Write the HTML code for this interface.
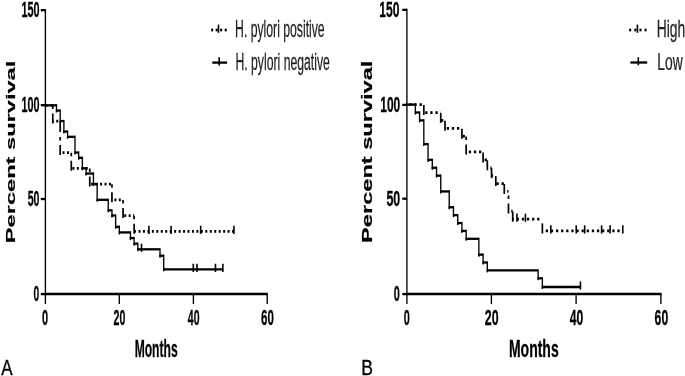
<!DOCTYPE html>
<html><head><meta charset="utf-8"><style>
html,body{margin:0;padding:0;background:#fff;width:685px;height:376px;overflow:hidden;}
svg{display:block;will-change:transform;filter:blur(0.45px);}
text{font-family:"Liberation Sans",sans-serif;}
</style></head><body>
<svg width="685" height="376" viewBox="0 0 685 376">
<rect width="685" height="376" fill="#fff"/>
<line x1="45.40" y1="9.05" x2="45.40" y2="295.25" stroke="#000" stroke-width="1.35" />
<line x1="45.40" y1="294.10" x2="267.88" y2="294.10" stroke="#000" stroke-width="2.5" />
<line x1="40.80" y1="294.10" x2="45.40" y2="294.10" stroke="#000" stroke-width="2.3" />
<line x1="40.80" y1="199.00" x2="45.40" y2="199.00" stroke="#000" stroke-width="2.3" />
<line x1="40.80" y1="105.20" x2="45.40" y2="105.20" stroke="#000" stroke-width="2.3" />
<line x1="40.80" y1="10.20" x2="45.40" y2="10.20" stroke="#000" stroke-width="2.3" />
<line x1="45.40" y1="294.10" x2="45.40" y2="304.10" stroke="#000" stroke-width="1.35" />
<line x1="119.30" y1="294.10" x2="119.30" y2="304.10" stroke="#000" stroke-width="1.35" />
<line x1="193.40" y1="294.10" x2="193.40" y2="304.10" stroke="#000" stroke-width="1.35" />
<line x1="267.20" y1="294.10" x2="267.20" y2="304.10" stroke="#000" stroke-width="1.35" />
<line x1="406.90" y1="8.70" x2="406.90" y2="295.25" stroke="#000" stroke-width="1.35" />
<line x1="406.90" y1="294.10" x2="661.57" y2="294.10" stroke="#000" stroke-width="2.5" />
<line x1="402.30" y1="294.10" x2="406.90" y2="294.10" stroke="#000" stroke-width="2.3" />
<line x1="402.30" y1="198.70" x2="406.90" y2="198.70" stroke="#000" stroke-width="2.3" />
<line x1="402.30" y1="104.90" x2="406.90" y2="104.90" stroke="#000" stroke-width="2.3" />
<line x1="402.30" y1="9.85" x2="406.90" y2="9.85" stroke="#000" stroke-width="2.3" />
<line x1="406.90" y1="294.10" x2="406.90" y2="304.10" stroke="#000" stroke-width="1.35" />
<line x1="491.40" y1="294.10" x2="491.40" y2="304.10" stroke="#000" stroke-width="1.35" />
<line x1="576.10" y1="294.10" x2="576.10" y2="304.10" stroke="#000" stroke-width="1.35" />
<line x1="660.90" y1="294.10" x2="660.90" y2="304.10" stroke="#000" stroke-width="1.35" />
<line x1="45.40" y1="105.30" x2="52.79" y2="105.30" stroke="#000" stroke-width="2.75" stroke-dasharray="1.974 2.481" stroke-dashoffset="3.476"/>
<line x1="52.79" y1="123.54" x2="52.79" y2="105.30" stroke="#000" stroke-width="1.7" stroke-dasharray="10 4.5 3.5 5"/>
<line x1="52.79" y1="121.04" x2="60.19" y2="121.04" stroke="#000" stroke-width="2.75" stroke-dasharray="1.974 2.481" stroke-dashoffset="1.021"/>
<line x1="60.19" y1="155.05" x2="60.19" y2="121.04" stroke="#000" stroke-width="1.7" stroke-dasharray="10 4.5 3.5 5"/>
<line x1="60.19" y1="152.55" x2="71.28" y2="152.55" stroke="#000" stroke-width="2.75" stroke-dasharray="1.974 2.481" stroke-dashoffset="2.090"/>
<line x1="71.28" y1="170.79" x2="71.28" y2="152.55" stroke="#000" stroke-width="1.7" stroke-dasharray="10 4.5 3.5 5"/>
<line x1="71.28" y1="168.29" x2="89.76" y2="168.29" stroke="#000" stroke-width="2.75" stroke-dasharray="1.974 2.481" stroke-dashoffset="3.331"/>
<line x1="89.76" y1="186.56" x2="89.76" y2="168.29" stroke="#000" stroke-width="1.7" stroke-dasharray="10 4.5 3.5 5"/>
<line x1="89.76" y1="184.06" x2="111.95" y2="184.06" stroke="#000" stroke-width="2.75" stroke-dasharray="1.974 2.481" stroke-dashoffset="3.066"/>
<line x1="111.95" y1="202.30" x2="111.95" y2="184.06" stroke="#000" stroke-width="1.7" stroke-dasharray="10 4.5 3.5 5"/>
<line x1="111.95" y1="199.80" x2="123.04" y2="199.80" stroke="#000" stroke-width="2.75" stroke-dasharray="1.974 2.481" stroke-dashoffset="2.033"/>
<line x1="123.04" y1="218.04" x2="123.04" y2="199.80" stroke="#000" stroke-width="1.7" stroke-dasharray="10 4.5 3.5 5"/>
<line x1="123.04" y1="215.54" x2="134.13" y2="215.54" stroke="#000" stroke-width="2.75" stroke-dasharray="1.974 2.481" stroke-dashoffset="3.274"/>
<line x1="134.13" y1="233.81" x2="134.13" y2="215.54" stroke="#000" stroke-width="1.7" stroke-dasharray="10 4.5 3.5 5"/>
<line x1="134.13" y1="231.31" x2="233.95" y2="231.31" stroke="#000" stroke-width="2.75" stroke-dasharray="1.974 2.481" stroke-dashoffset="0.070"/>
<line x1="148.92" y1="225.71" x2="148.92" y2="233.91" stroke="#000" stroke-width="1.6" />
<line x1="171.10" y1="225.71" x2="171.10" y2="233.91" stroke="#000" stroke-width="1.6" />
<line x1="200.67" y1="225.71" x2="200.67" y2="233.91" stroke="#000" stroke-width="1.6" />
<line x1="233.95" y1="225.71" x2="233.95" y2="233.91" stroke="#000" stroke-width="1.6" />
<line x1="44.73" y1="105.30" x2="56.49" y2="105.30" stroke="#000" stroke-width="2.3" />
<line x1="56.49" y1="104.15" x2="56.49" y2="112.55" stroke="#000" stroke-width="1.35" />
<line x1="55.82" y1="110.55" x2="60.19" y2="110.55" stroke="#000" stroke-width="2.3" />
<line x1="60.19" y1="109.40" x2="60.19" y2="123.04" stroke="#000" stroke-width="1.35" />
<line x1="59.51" y1="121.04" x2="63.88" y2="121.04" stroke="#000" stroke-width="2.3" />
<line x1="63.88" y1="119.89" x2="63.88" y2="133.55" stroke="#000" stroke-width="1.35" />
<line x1="63.21" y1="131.55" x2="67.58" y2="131.55" stroke="#000" stroke-width="2.3" />
<line x1="67.58" y1="130.40" x2="67.58" y2="138.81" stroke="#000" stroke-width="1.35" />
<line x1="66.91" y1="136.81" x2="74.98" y2="136.81" stroke="#000" stroke-width="2.3" />
<line x1="74.98" y1="135.66" x2="74.98" y2="154.55" stroke="#000" stroke-width="1.35" />
<line x1="74.30" y1="152.55" x2="78.67" y2="152.55" stroke="#000" stroke-width="2.3" />
<line x1="78.67" y1="151.40" x2="78.67" y2="159.80" stroke="#000" stroke-width="1.35" />
<line x1="78.00" y1="157.80" x2="82.37" y2="157.80" stroke="#000" stroke-width="2.3" />
<line x1="82.37" y1="156.65" x2="82.37" y2="170.29" stroke="#000" stroke-width="1.35" />
<line x1="81.70" y1="168.29" x2="86.07" y2="168.29" stroke="#000" stroke-width="2.3" />
<line x1="86.07" y1="167.14" x2="86.07" y2="175.55" stroke="#000" stroke-width="1.35" />
<line x1="85.39" y1="173.55" x2="93.46" y2="173.55" stroke="#000" stroke-width="2.3" />
<line x1="93.46" y1="172.40" x2="93.46" y2="186.06" stroke="#000" stroke-width="1.35" />
<line x1="92.79" y1="184.06" x2="97.16" y2="184.06" stroke="#000" stroke-width="2.3" />
<line x1="97.16" y1="182.91" x2="97.16" y2="201.80" stroke="#000" stroke-width="1.35" />
<line x1="96.48" y1="199.80" x2="108.25" y2="199.80" stroke="#000" stroke-width="2.3" />
<line x1="108.25" y1="198.65" x2="108.25" y2="212.31" stroke="#000" stroke-width="1.35" />
<line x1="107.57" y1="210.31" x2="111.95" y2="210.31" stroke="#000" stroke-width="2.3" />
<line x1="111.95" y1="209.16" x2="111.95" y2="217.54" stroke="#000" stroke-width="1.35" />
<line x1="111.27" y1="215.54" x2="115.64" y2="215.54" stroke="#000" stroke-width="2.3" />
<line x1="115.64" y1="214.39" x2="115.64" y2="228.81" stroke="#000" stroke-width="1.35" />
<line x1="114.97" y1="226.81" x2="119.34" y2="226.81" stroke="#000" stroke-width="2.3" />
<line x1="119.34" y1="225.66" x2="119.34" y2="234.42" stroke="#000" stroke-width="1.35" />
<line x1="118.67" y1="232.42" x2="130.43" y2="232.42" stroke="#000" stroke-width="2.3" />
<line x1="130.43" y1="231.27" x2="130.43" y2="240.05" stroke="#000" stroke-width="1.35" />
<line x1="129.76" y1="238.05" x2="134.13" y2="238.05" stroke="#000" stroke-width="2.3" />
<line x1="134.13" y1="236.90" x2="134.13" y2="245.67" stroke="#000" stroke-width="1.35" />
<line x1="133.45" y1="243.67" x2="137.82" y2="243.67" stroke="#000" stroke-width="2.3" />
<line x1="137.82" y1="242.52" x2="137.82" y2="251.30" stroke="#000" stroke-width="1.35" />
<line x1="137.15" y1="249.30" x2="160.01" y2="249.30" stroke="#000" stroke-width="2.3" />
<line x1="160.01" y1="248.15" x2="160.01" y2="257.73" stroke="#000" stroke-width="1.35" />
<line x1="159.33" y1="255.73" x2="163.70" y2="255.73" stroke="#000" stroke-width="2.3" />
<line x1="163.70" y1="254.58" x2="163.70" y2="271.35" stroke="#000" stroke-width="1.35" />
<line x1="163.03" y1="269.35" x2="222.86" y2="269.35" stroke="#000" stroke-width="2.3" />
<line x1="193.28" y1="263.75" x2="193.28" y2="271.95" stroke="#000" stroke-width="1.6" />
<line x1="196.98" y1="263.75" x2="196.98" y2="271.95" stroke="#000" stroke-width="1.6" />
<line x1="215.46" y1="263.75" x2="215.46" y2="271.95" stroke="#000" stroke-width="1.6" />
<line x1="222.86" y1="263.75" x2="222.86" y2="271.95" stroke="#000" stroke-width="1.6" />
<line x1="406.90" y1="104.60" x2="423.83" y2="104.60" stroke="#000" stroke-width="2.75" stroke-dasharray="2.269 2.851" stroke-dashoffset="2.718"/>
<line x1="423.83" y1="115.00" x2="423.83" y2="104.60" stroke="#000" stroke-width="1.7" stroke-dasharray="10 4.5 3.5 5"/>
<line x1="423.83" y1="112.50" x2="440.76" y2="112.50" stroke="#000" stroke-width="2.75" stroke-dasharray="2.269 2.851" stroke-dashoffset="3.767"/>
<line x1="440.76" y1="122.89" x2="440.76" y2="112.50" stroke="#000" stroke-width="1.7" stroke-dasharray="10 4.5 3.5 5"/>
<line x1="440.76" y1="120.39" x2="445.00" y2="120.39" stroke="#000" stroke-width="2.75" stroke-dasharray="2.269 2.851" stroke-dashoffset="4.806"/>
<line x1="445.00" y1="130.79" x2="445.00" y2="120.39" stroke="#000" stroke-width="1.7" stroke-dasharray="10 4.5 3.5 5"/>
<line x1="445.00" y1="128.29" x2="461.93" y2="128.29" stroke="#000" stroke-width="2.75" stroke-dasharray="2.269 2.851" stroke-dashoffset="3.397"/>
<line x1="461.93" y1="138.69" x2="461.93" y2="128.29" stroke="#000" stroke-width="1.7" stroke-dasharray="10 4.5 3.5 5"/>
<line x1="461.93" y1="136.19" x2="466.16" y2="136.19" stroke="#000" stroke-width="2.75" stroke-dasharray="2.269 2.851" stroke-dashoffset="4.446"/>
<line x1="466.16" y1="154.48" x2="466.16" y2="136.19" stroke="#000" stroke-width="1.7" stroke-dasharray="10 4.5 3.5 5"/>
<line x1="466.16" y1="151.98" x2="483.09" y2="151.98" stroke="#000" stroke-width="2.75" stroke-dasharray="2.269 2.851" stroke-dashoffset="2.503"/>
<line x1="483.09" y1="162.38" x2="483.09" y2="151.98" stroke="#000" stroke-width="1.7" stroke-dasharray="10 4.5 3.5 5"/>
<line x1="483.09" y1="159.88" x2="487.33" y2="159.88" stroke="#000" stroke-width="2.75" stroke-dasharray="2.269 2.851" stroke-dashoffset="3.553"/>
<line x1="487.33" y1="170.26" x2="487.33" y2="159.88" stroke="#000" stroke-width="1.7" stroke-dasharray="10 4.5 3.5 5"/>
<line x1="487.33" y1="167.76" x2="491.56" y2="167.76" stroke="#000" stroke-width="2.75" stroke-dasharray="2.269 2.851" stroke-dashoffset="2.133"/>
<line x1="491.56" y1="178.16" x2="491.56" y2="167.76" stroke="#000" stroke-width="1.7" stroke-dasharray="10 4.5 3.5 5"/>
<line x1="491.56" y1="175.66" x2="495.79" y2="175.66" stroke="#000" stroke-width="2.75" stroke-dasharray="2.269 2.851" stroke-dashoffset="0.723"/>
<line x1="495.79" y1="186.06" x2="495.79" y2="175.66" stroke="#000" stroke-width="1.7" stroke-dasharray="10 4.5 3.5 5"/>
<line x1="495.79" y1="183.56" x2="504.26" y2="183.56" stroke="#000" stroke-width="2.75" stroke-dasharray="2.269 2.851" stroke-dashoffset="4.434"/>
<line x1="504.26" y1="193.95" x2="504.26" y2="183.56" stroke="#000" stroke-width="1.7" stroke-dasharray="10 4.5 3.5 5"/>
<line x1="504.26" y1="191.45" x2="508.49" y2="191.45" stroke="#000" stroke-width="2.75" stroke-dasharray="2.269 2.851" stroke-dashoffset="2.126"/>
<line x1="508.49" y1="213.50" x2="508.49" y2="191.45" stroke="#000" stroke-width="1.7" stroke-dasharray="10 4.5 3.5 5"/>
<line x1="508.49" y1="211.00" x2="512.72" y2="211.00" stroke="#000" stroke-width="2.75" stroke-dasharray="2.269 2.851" stroke-dashoffset="2.375"/>
<line x1="512.72" y1="221.70" x2="512.72" y2="211.00" stroke="#000" stroke-width="1.7" stroke-dasharray="10 4.5 3.5 5"/>
<line x1="512.72" y1="219.20" x2="542.36" y2="219.20" stroke="#000" stroke-width="2.75" stroke-dasharray="2.269 2.851" stroke-dashoffset="1.139"/>
<line x1="542.36" y1="233.44" x2="542.36" y2="219.20" stroke="#000" stroke-width="1.7" stroke-dasharray="10 4.5 3.5 5"/>
<line x1="542.36" y1="230.94" x2="622.78" y2="230.94" stroke="#000" stroke-width="2.75" stroke-dasharray="2.269 2.851" stroke-dashoffset="1.761"/>
<line x1="550.82" y1="225.34" x2="550.82" y2="233.54" stroke="#000" stroke-width="1.6" />
<line x1="576.22" y1="225.34" x2="576.22" y2="233.54" stroke="#000" stroke-width="1.6" />
<line x1="584.69" y1="225.34" x2="584.69" y2="233.54" stroke="#000" stroke-width="1.6" />
<line x1="601.62" y1="225.34" x2="601.62" y2="233.54" stroke="#000" stroke-width="1.6" />
<line x1="610.08" y1="225.34" x2="610.08" y2="233.54" stroke="#000" stroke-width="1.6" />
<line x1="622.78" y1="225.34" x2="622.78" y2="233.54" stroke="#000" stroke-width="1.6" />
<line x1="406.22" y1="104.60" x2="415.37" y2="104.60" stroke="#000" stroke-width="2.3" />
<line x1="415.37" y1="103.45" x2="415.37" y2="114.50" stroke="#000" stroke-width="1.35" />
<line x1="414.69" y1="112.50" x2="419.60" y2="112.50" stroke="#000" stroke-width="2.3" />
<line x1="419.60" y1="111.35" x2="419.60" y2="122.39" stroke="#000" stroke-width="1.35" />
<line x1="418.92" y1="120.39" x2="423.83" y2="120.39" stroke="#000" stroke-width="2.3" />
<line x1="423.83" y1="119.24" x2="423.83" y2="146.07" stroke="#000" stroke-width="1.35" />
<line x1="423.16" y1="144.07" x2="428.06" y2="144.07" stroke="#000" stroke-width="2.3" />
<line x1="428.06" y1="142.92" x2="428.06" y2="161.88" stroke="#000" stroke-width="1.35" />
<line x1="427.39" y1="159.88" x2="432.30" y2="159.88" stroke="#000" stroke-width="2.3" />
<line x1="432.30" y1="158.73" x2="432.30" y2="169.76" stroke="#000" stroke-width="1.35" />
<line x1="431.62" y1="167.76" x2="436.53" y2="167.76" stroke="#000" stroke-width="2.3" />
<line x1="436.53" y1="166.61" x2="436.53" y2="177.66" stroke="#000" stroke-width="1.35" />
<line x1="435.86" y1="175.66" x2="440.76" y2="175.66" stroke="#000" stroke-width="2.3" />
<line x1="440.76" y1="174.51" x2="440.76" y2="193.45" stroke="#000" stroke-width="1.35" />
<line x1="440.09" y1="191.45" x2="449.23" y2="191.45" stroke="#000" stroke-width="2.3" />
<line x1="449.23" y1="190.30" x2="449.23" y2="209.25" stroke="#000" stroke-width="1.35" />
<line x1="448.55" y1="207.25" x2="453.46" y2="207.25" stroke="#000" stroke-width="2.3" />
<line x1="453.46" y1="206.10" x2="453.46" y2="217.14" stroke="#000" stroke-width="1.35" />
<line x1="452.79" y1="215.14" x2="457.70" y2="215.14" stroke="#000" stroke-width="2.3" />
<line x1="457.70" y1="213.99" x2="457.70" y2="225.04" stroke="#000" stroke-width="1.35" />
<line x1="457.02" y1="223.04" x2="461.93" y2="223.04" stroke="#000" stroke-width="2.3" />
<line x1="461.93" y1="221.89" x2="461.93" y2="232.94" stroke="#000" stroke-width="1.35" />
<line x1="461.25" y1="230.94" x2="466.16" y2="230.94" stroke="#000" stroke-width="2.3" />
<line x1="466.16" y1="229.79" x2="466.16" y2="240.82" stroke="#000" stroke-width="1.35" />
<line x1="465.49" y1="238.82" x2="478.86" y2="238.82" stroke="#000" stroke-width="2.3" />
<line x1="478.86" y1="237.67" x2="478.86" y2="256.63" stroke="#000" stroke-width="1.35" />
<line x1="478.19" y1="254.63" x2="483.09" y2="254.63" stroke="#000" stroke-width="2.3" />
<line x1="483.09" y1="253.48" x2="483.09" y2="264.51" stroke="#000" stroke-width="1.35" />
<line x1="482.42" y1="262.51" x2="487.33" y2="262.51" stroke="#000" stroke-width="2.3" />
<line x1="487.33" y1="261.36" x2="487.33" y2="272.41" stroke="#000" stroke-width="1.35" />
<line x1="486.65" y1="270.41" x2="538.12" y2="270.41" stroke="#000" stroke-width="2.3" />
<line x1="538.12" y1="269.26" x2="538.12" y2="280.31" stroke="#000" stroke-width="1.35" />
<line x1="537.45" y1="278.31" x2="542.36" y2="278.31" stroke="#000" stroke-width="2.3" />
<line x1="542.36" y1="277.16" x2="542.36" y2="288.99" stroke="#000" stroke-width="1.35" />
<line x1="541.68" y1="286.99" x2="580.45" y2="286.99" stroke="#000" stroke-width="2.3" />
<line x1="580.45" y1="281.39" x2="580.45" y2="289.59" stroke="#000" stroke-width="1.6" />
<line x1="141.52" y1="243.70" x2="141.52" y2="251.90" stroke="#000" stroke-width="1.6" />
<line x1="516.96" y1="213.60" x2="516.96" y2="221.80" stroke="#000" stroke-width="1.6" />
<line x1="525.42" y1="213.60" x2="525.42" y2="221.80" stroke="#000" stroke-width="1.6" />
<line x1="211.20" y1="30.00" x2="213.20" y2="30.00" stroke="#000" stroke-width="2.75" />
<line x1="215.70" y1="30.00" x2="217.70" y2="30.00" stroke="#000" stroke-width="2.75" />
<line x1="220.20" y1="30.00" x2="222.20" y2="30.00" stroke="#000" stroke-width="2.75" />
<line x1="224.70" y1="30.00" x2="226.70" y2="30.00" stroke="#000" stroke-width="2.75" />
<line x1="218.50" y1="24.60" x2="218.50" y2="32.80" stroke="#000" stroke-width="1.6" />
<line x1="212.30" y1="62.60" x2="227.10" y2="62.60" stroke="#000" stroke-width="2.3" />
<line x1="219.20" y1="57.30" x2="219.20" y2="65.40" stroke="#000" stroke-width="1.6" />
<line x1="629.20" y1="30.00" x2="631.20" y2="30.00" stroke="#000" stroke-width="2.75" />
<line x1="634.33" y1="30.00" x2="636.33" y2="30.00" stroke="#000" stroke-width="2.75" />
<line x1="639.46" y1="30.00" x2="641.46" y2="30.00" stroke="#000" stroke-width="2.75" />
<line x1="644.59" y1="30.00" x2="646.59" y2="30.00" stroke="#000" stroke-width="2.75" />
<line x1="637.40" y1="24.60" x2="637.40" y2="32.80" stroke="#000" stroke-width="1.6" />
<line x1="630.40" y1="62.50" x2="647.20" y2="62.50" stroke="#000" stroke-width="2.3" />
<line x1="638.30" y1="57.20" x2="638.30" y2="65.30" stroke="#000" stroke-width="1.6" />
<text font-size="22.96" font-weight="bold" fill="#000" stroke="#000" stroke-width="0.3" transform="translate(21.49,17.12) scale(0.4733,1)">150</text>
<text font-size="21.69" font-weight="bold" fill="#000" stroke="#000" stroke-width="0.3" transform="translate(21.45,111.83) scale(0.4995,1)">100</text>
<text font-size="22.25" font-weight="bold" fill="#000" stroke="#000" stroke-width="0.3" transform="translate(27.73,206.03) scale(0.4753,1)">50</text>
<text font-size="22.39" font-weight="bold" fill="#000" stroke="#000" stroke-width="0.3" transform="translate(33.54,301.23) scale(0.4606,1)">0</text>
<text font-size="21.97" font-weight="bold" fill="#000" stroke="#000" stroke-width="0.3" transform="translate(42.11,325.13) scale(0.4982,1)">0</text>
<text font-size="22.25" font-weight="bold" fill="#000" stroke="#000" stroke-width="0.3" transform="translate(113.48,324.93) scale(0.4776,1)">20</text>
<text font-size="22.25" font-weight="bold" fill="#000" stroke="#000" stroke-width="0.3" transform="translate(187.79,324.93) scale(0.4728,1)">40</text>
<text font-size="22.25" font-weight="bold" fill="#000" stroke="#000" stroke-width="0.3" transform="translate(261.05,324.93) scale(0.5167,1)">60</text>
<text font-size="24.30" font-weight="bold" fill="#000" stroke="#000" stroke-width="0.3" transform="translate(134.66,356.50) scale(0.4974,1)">Months</text>
<text font-size="23.64" font-weight="bold" fill="#000" stroke="#000" stroke-width="0.3" transform="translate(15.05,243.19) scale(0.5310,1) rotate(-90)">Percent survival</text>
<text font-size="21.45" font-weight="normal" fill="#000" stroke="#000" stroke-width="0.35" transform="translate(1.27,374.95) scale(0.7912,1)">A</text>
<text font-size="24.30" font-weight="normal" fill="#222" stroke="#222" stroke-width="0.25" transform="translate(235.07,36.90) scale(0.5028,1)">H. pylori positive</text>
<text font-size="24.30" font-weight="normal" fill="#222" stroke="#222" stroke-width="0.25" transform="translate(235.47,69.60) scale(0.5030,1)">H. pylori negative</text>
<text font-size="22.54" font-weight="bold" fill="#000" stroke="#000" stroke-width="0.3" transform="translate(379.26,16.92) scale(0.5376,1)">150</text>
<text font-size="21.41" font-weight="bold" fill="#000" stroke="#000" stroke-width="0.3" transform="translate(380.27,111.64) scale(0.5599,1)">100</text>
<text font-size="22.39" font-weight="bold" fill="#000" stroke="#000" stroke-width="0.3" transform="translate(386.48,206.13) scale(0.5539,1)">50</text>
<text font-size="22.54" font-weight="bold" fill="#000" stroke="#000" stroke-width="0.3" transform="translate(393.81,301.22) scale(0.4858,1)">0</text>
<text font-size="21.97" font-weight="bold" fill="#000" stroke="#000" stroke-width="0.3" transform="translate(403.71,325.23) scale(0.4982,1)">0</text>
<text font-size="22.25" font-weight="bold" fill="#000" stroke="#000" stroke-width="0.3" transform="translate(484.82,324.93) scale(0.5557,1)">20</text>
<text font-size="22.25" font-weight="bold" fill="#000" stroke="#000" stroke-width="0.3" transform="translate(569.87,324.93) scale(0.5452,1)">40</text>
<text font-size="22.25" font-weight="bold" fill="#000" stroke="#000" stroke-width="0.3" transform="translate(654.62,324.93) scale(0.5471,1)">60</text>
<text font-size="24.30" font-weight="bold" fill="#000" stroke="#000" stroke-width="0.3" transform="translate(508.94,356.50) scale(0.5761,1)">Months</text>
<text font-size="23.62" font-weight="bold" fill="#000" stroke="#000" stroke-width="0.3" transform="translate(372.45,242.89) scale(0.6014,1) rotate(-90)">Percent survival</text>
<text font-size="21.88" font-weight="normal" fill="#000" stroke="#000" stroke-width="0.35" transform="translate(361.24,375.15) scale(0.8029,1)">B</text>
<text font-size="24.30" font-weight="normal" fill="#222" stroke="#222" stroke-width="0.25" transform="translate(656.74,36.70) scale(0.5710,1)">High</text>
<text font-size="24.30" font-weight="normal" fill="#222" stroke="#222" stroke-width="0.25" transform="translate(657.34,69.80) scale(0.5698,1)">Low</text>
</svg>
</body></html>
